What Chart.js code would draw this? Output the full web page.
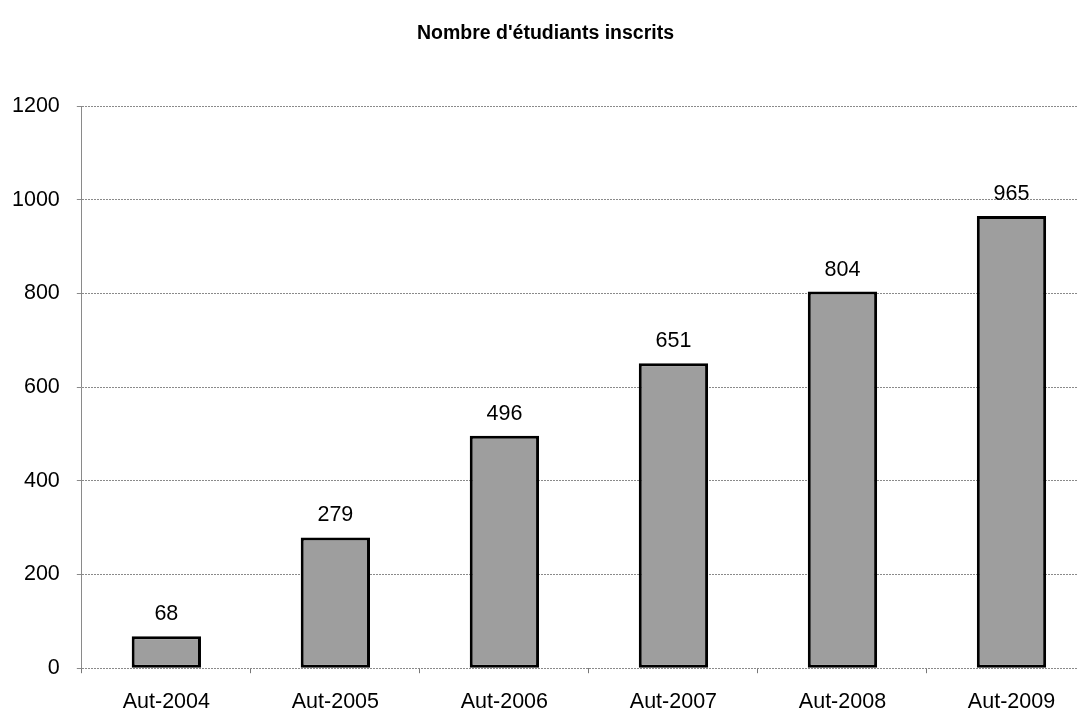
<!DOCTYPE html>
<html>
<head>
<meta charset="utf-8">
<script src="https://cdn.jsdelivr.net/npm/chart.js@4/dist/chart.umd.min.js"></script>
<style>
  html, body { margin: 0; padding: 0; background: #fff; overflow: hidden; }
  #wrap { position: relative; left: -16px; width: 1112px; height: 731px; }
</style>
</head>
<body>
<div id="wrap"><canvas id="chart"></canvas></div>
<script>
const labels = ['Aut-2004', 'Aut-2005', 'Aut-2006', 'Aut-2007', 'Aut-2008', 'Aut-2009'];
const inscrits = [68, 279, 496, 651, 804, 965];
const yMax = 1200;
const yStep = 200;

const FONT = '"Liberation Sans", Arial, sans-serif';

// draws the value above each bar
const valueLabels = {
  id: 'valueLabels',
  afterDatasetsDraw(chart) {
    const ctx = chart.ctx;
    const meta = chart.getDatasetMeta(0);
    ctx.save();
    ctx.font = '21.5px ' + FONT;
    ctx.fillStyle = '#000';
    ctx.textAlign = 'center';
    ctx.textBaseline = 'alphabetic';
    meta.data.forEach((bar, i) => {
      ctx.fillText(String(chart.data.datasets[0].data[i]), bar.x, bar.y - 16);
    });
    ctx.restore();
  }
};

new Chart(document.getElementById('chart'), {
  type: 'bar',
  data: {
    labels: labels,
    datasets: [{
      label: "Nombre d'étudiants inscrits",
      data: inscrits,
      backgroundColor: '#9e9e9e',
      borderColor: '#000',
      borderWidth: 3,
      borderSkipped: false,
      barPercentage: 0.41,
      categoryPercentage: 1.0,
    }]
  },
  options: {
    responsive: true,
    maintainAspectRatio: false,
    animation: false,
    layout: { padding: { left: 11, right: 0, top: 0, bottom: 0 } },
    plugins: {
      legend: { display: false },
      tooltip: { enabled: false },
      title: {
        display: true,
        text: "Nombre d'étudiants inscrits",
        color: '#000',
        font: { family: FONT, size: 19.5, weight: 'bold' },
        padding: { top: 22, bottom: 60.6 },
      },
    },
    scales: {
      x: {
        offset: true,
        grid: {
          display: true,
          drawOnChartArea: false,
          offset: true,
          tickLength: 5,
          color: '#777',
        },
        border: { display: false },
        ticks: {
          color: '#000',
          font: { family: FONT, size: 21.5 },
          padding: 16,
        },
      },
      y: {
        min: 0,
        max: yMax,
        ticks: {
          stepSize: yStep,
          color: '#000',
          font: { family: FONT, size: 21.5 },
          padding: 17,
          callback: (v) => String(v),
        },
        grid: {
          color: '#8a8a8a',
          lineWidth: 1,
          tickLength: 5,
        },
        border: {
          display: true,
          color: '#8a8a8a',
          dash: [2, 1],
        },
      },
    },
  },
  plugins: [valueLabels],
});
</script>
</body>
</html>
